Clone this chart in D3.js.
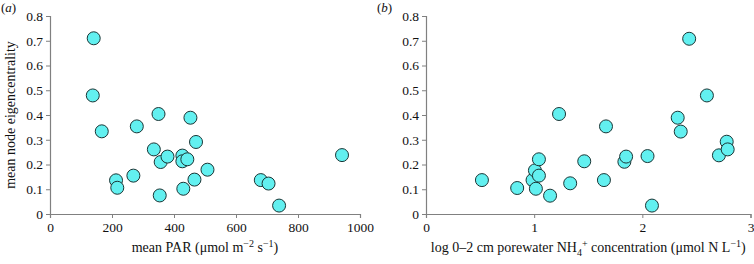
<!DOCTYPE html>
<html>
<head>
<meta charset="utf-8">
<script src="https://cdn.jsdelivr.net/npm/d3@7"></script>
<style>
  body { margin: 0; background: #fff; }
  svg text { font-family: "Liberation Serif", "DejaVu Serif", serif; }
</style>
</head>
<body>
<div id="chart"></div>
<script>
// panel (a): mean PAR vs eigencentrality
const parValues = [141, 138, 167, 213, 217, 269, 280, 335, 350, 357, 379, 354, 427, 427, 443, 453, 471, 466, 430, 508, 680, 705, 739, 942];
const parEigen = [0.710, 0.479, 0.334, 0.136, 0.106, 0.155, 0.354, 0.261, 0.404, 0.210, 0.232, 0.075, 0.236, 0.213, 0.221, 0.389, 0.291, 0.139, 0.102, 0.179, 0.137, 0.123, 0.034, 0.238];

// panel (b): log porewater NH4+ vs eigencentrality
const nh4Values = [0.517, 0.843, 0.985, 1.007, 1.016, 1.044, 1.044, 1.147, 1.230, 1.333, 1.463, 1.645, 1.664, 1.834, 1.850, 2.048, 2.089, 2.327, 2.355, 2.433, 2.597, 2.708, 2.780, 2.789];
const nh4Eigen = [0.137, 0.105, 0.137, 0.176, 0.102, 0.221, 0.155, 0.074, 0.404, 0.124, 0.213, 0.137, 0.354, 0.211, 0.232, 0.234, 0.034, 0.389, 0.333, 0.708, 0.479, 0.237, 0.292, 0.261];

const yTicks = [0, 0.1, 0.2, 0.3, 0.4, 0.5, 0.6, 0.7, 0.8];
const parTicks = [0, 200, 400, 600, 800, 1000];
const nh4Ticks = [0, 1, 2, 3];

const width = 754, height = 264;
const axisColor = "#808080";
const fillColor = "#62f0f0";
const serif = '"Liberation Serif", "DejaVu Serif", serif';

const svg = d3.select("#chart").append("svg")
    .attr("width", width)
    .attr("height", height);

const yScale = d3.scaleLinear().domain([0, 0.8]).range([214, 16]);

function drawPanel(opts) {
    const g = svg.append("g");
    const xScale = d3.scaleLinear().domain(opts.domain).range(opts.range);

    // y axis
    const yAxis = g.append("g")
        .attr("transform", `translate(${opts.range[0]},0)`)
        .attr("font-family", serif)
        .call(d3.axisLeft(yScale).tickValues(yTicks).tickSize(4).tickPadding(3)
            .tickFormat(d => d === 0 ? "0" : d3.format(".1f")(d)));
    yAxis.select(".domain").attr("stroke", axisColor).attr("stroke-width", 1.2);
    yAxis.selectAll("line").attr("stroke", axisColor);
    yAxis.selectAll("text").attr("fill", "#111").style("font-size", "13.5px");

    // x axis
    const xAxis = g.append("g")
        .attr("transform", `translate(0,${yScale(0)})`)
        .attr("font-family", serif)
        .call(d3.axisBottom(xScale).tickValues(opts.ticks).tickSize(4).tickPadding(4)
            .tickFormat(d3.format("d")));
    xAxis.select(".domain").attr("stroke", axisColor).attr("stroke-width", 1.2);
    xAxis.selectAll("line").attr("stroke", axisColor);
    xAxis.selectAll("text").attr("fill", "#111").style("font-size", "13.5px");

    // points
    g.selectAll(".dot")
        .data(opts.xs.map((x, i) => ({ x: x, y: opts.ys[i] })))
        .enter()
        .append("circle")
        .attr("class", "dot")
        .attr("cx", d => xScale(d.x))
        .attr("cy", d => yScale(d.y))
        .attr("r", 6.5)
        .attr("fill", fillColor)
        .attr("stroke", "#1b3535")
        .attr("stroke-width", 1);

    // panel letter
    const letter = svg.append("text")
        .attr("x", opts.letterX)
        .attr("y", 12)
        .style("font-size", "13px")
        .attr("fill", "#111");
    letter.append("tspan").text("(");
    letter.append("tspan").style("font-style", "italic").text(opts.letter);
    letter.append("tspan").text(")");

    // x label
    const xl = svg.append("text")
        .attr("x", (opts.range[0] + opts.range[1]) / 2)
        .attr("y", 252)
        .attr("text-anchor", "middle")
        .style("font-size", "14px")
        .attr("fill", "#111");
    opts.xLabel(xl);
}

drawPanel({
    domain: [0, 1000], range: [50, 360], ticks: parTicks,
    xs: parValues, ys: parEigen, letter: "a", letterX: 1,
    xLabel: t => {
        t.append("tspan").text("mean PAR (\u03bcmol m");
        t.append("tspan").attr("dy", -5).style("font-size", "10px").text("\u22122");
        t.append("tspan").attr("dy", 5).text(" s");
        t.append("tspan").attr("dy", -5).style("font-size", "10px").text("\u22121");
        t.append("tspan").attr("dy", 5).text(")");
    }
});

drawPanel({
    domain: [0, 3], range: [426, 750.5], ticks: nh4Ticks,
    xs: nh4Values, ys: nh4Eigen, letter: "b", letterX: 377,
    xLabel: t => {
        t.append("tspan").text("log 0\u20132 cm porewater NH");
        t.append("tspan").attr("dy", 4).style("font-size", "10px").text("4");
        t.append("tspan").attr("dy", -9).style("font-size", "10px").text("+");
        t.append("tspan").attr("dy", 5).text(" concentration (\u03bcmol N L");
        t.append("tspan").attr("dy", -5).style("font-size", "10px").text("\u22121");
        t.append("tspan").attr("dy", 5).text(")");
    }
});

// y label for panel (a)
svg.append("text")
    .attr("transform", `translate(15,115) rotate(-90)`)
    .attr("text-anchor", "middle")
    .style("font-size", "14px")
    .attr("fill", "#111")
    .text("mean node eigencentrality");
</script>
</body>
</html>
